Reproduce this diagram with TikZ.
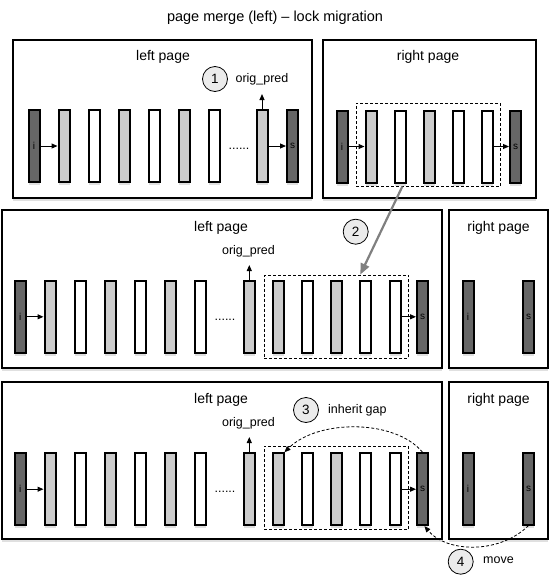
\documentclass[tikz,border=0pt]{standalone}
\usepackage{fontspec}
\setmainfont{Liberation Sans}
\usetikzlibrary{arrows.meta,shadows}
\definecolor{darkbar}{HTML}{666666}
\definecolor{lightbar}{HTML}{CCCCCC}
\definecolor{circfill}{HTML}{EBEBEB}
\definecolor{shadowc}{HTML}{E0E0E0}
\definecolor{grayarrow}{HTML}{808080}
\tikzset{
  shad/.style={drop shadow={shadow xshift=0pt, shadow yshift=-3pt, fill=shadowc, opacity=1}},
  pagebox/.style={draw, fill=white, line width=1.9pt, shad},
  bar/.style={draw, rectangle, line width=2pt, minimum width=11pt, minimum height=72pt, inner sep=0pt, shad, font=\fontsize{10}{12}\selectfont},
  barD/.style={bar, fill=darkbar},
  barL/.style={bar, fill=lightbar},
  barW/.style={bar, fill=white},
  dashbox/.style={draw, rectangle, dash pattern=on 3pt off 2pt, line width=0.9pt, inner sep=0pt},
  sarrow/.style={-{Triangle[length=6pt,width=5pt]}, line width=1pt},
  dcurve/.style={-{Triangle[length=6pt,width=5pt]}, line width=0.8pt, dash pattern=on 3pt off 2pt},
  circ/.style={circle, draw, line width=0.8pt, fill=circfill, minimum size=25pt, inner sep=0pt, font=\fontsize{13.5}{15}\selectfont},
  pagelabel/.style={font=\fontsize{14}{16}\selectfont},
  smalllabel/.style={font=\fontsize{12.5}{14}\selectfont, inner sep=0pt},
  dotslabel/.style={font=\fontsize{12.5}{14}\selectfont, inner sep=0pt, anchor=base}
}
\begin{document}
\begin{tikzpicture}[x=1pt,y=-1pt]
\useasboundingbox (0,0) rectangle (550,579);
\node[font=\fontsize{14.5}{17}\selectfont] (title) at (275,18) {page merge (left) – lock migration};

% ---------- row 1 ----------
\draw[pagebox] (13,40) rectangle (312,198);
\draw[pagebox] (323,40) rectangle (536,198);
\node[pagelabel] (lp1) at (163,57) {left page};
\node[pagelabel] (rp1) at (428,57) {right page};
\foreach \n/\x/\s/\t in {a/34/barD/i, b/64/barL/, c/94/barW/, d/124/barL/, e/154/barW/, f/184/barL/, g/214/barW/, h/262/barL/, i/292.5/barD/s}
  \node[\s] (L1\n) at (\x,146) {\t};
\foreach \n/\x/\s/\t in {a/342/barD/i, b/371/barL/, c/400/barW/, d/429/barL/, e/458/barW/, f/487/barW/, g/515.5/barD/s}
  \node[\s] (R1\n) at (\x,146.5) {\t};
\node[dashbox, minimum width=144.7pt, minimum height=82.7pt] (D1) at (428.35,144.65) {};
\draw[sarrow] (L1a.east) -- (L1b.west);
\draw[sarrow] (L1h.east) -- (L1i.west);
\draw[sarrow] (R1a.east) -- (R1b.west);
\draw[sarrow] (R1f.east) -- (R1g.west);
\node[dotslabel] (dots1) at (239,149.5) {......};
\coordinate (o1) at (262,94);
\draw[sarrow] (L1h.north) -- (o1);
\node[smalllabel] (op1) at (262,79) {orig\_pred};
\node[circ] (c1) at (215,79) {1};

% ---------- row 2 ----------
\draw[pagebox] (2,210) rectangle (442,368);
\draw[pagebox] (449,210) rectangle (548,368);
\node[pagelabel] (lp2) at (221,228) {left page};
\node[pagelabel] (rp2) at (498.5,228) {right page};
\foreach \n/\x/\s/\t in {a/20.3/barD/i, b/50/barL/, c/80.3/barW/, d/110/barL/, e/140/barW/, f/170/barL/, g/200/barW/, h/249.3/barL/, i/278/barL/, j/307.3/barW/, k/336/barL/, l/365.5/barW/, m/395/barW/, n/422.5/barD/s}
  \node[\s] (L2\n) at (\x,316.8) {\t};
\node[barD] (R2a) at (468,316.8) {i};
\node[barD] (R2b) at (528.5,316.8) {s};
\node[dashbox, minimum width=144pt, minimum height=83.3pt] (D2) at (336.3,316.65) {};
\draw[sarrow] (L2a.east) -- (L2b.west);
\draw[sarrow] (L2m.east) -- (L2n.west);
\node[dotslabel] (dots2) at (225,320.5) {......};
\coordinate (o2) at (249.3,265);
\draw[sarrow] (L2h.north) -- (o2);
\node[smalllabel] (op2) at (248.5,251) {orig\_pred};
\node[circ] (c2) at (355.7,231.7) {2};

% ---------- row 3 ----------
\draw[pagebox] (2,382) rectangle (442,539);
\draw[pagebox] (449,382) rectangle (548,539);
\node[pagelabel] (lp3) at (221,400) {left page};
\node[pagelabel] (rp3) at (498.5,400) {right page};
\foreach \n/\x/\s/\t in {a/20.3/barD/i, b/50/barL/, c/80.3/barW/, d/110/barL/, e/140/barW/, f/170/barL/, g/200/barW/, h/249.3/barL/, i/278/barL/, j/307.3/barW/, k/336/barL/, l/365.5/barW/, m/395/barW/, n/422.5/barD/s}
  \node[\s] (L3\n) at (\x,489.2) {\t};
\node[barD] (R3a) at (468,488.5) {i};
\node[barD] (R3b) at (528.5,488.5) {s};
\node[dashbox, minimum width=144.3pt, minimum height=83.3pt] (D3) at (336.15,487.65) {};
\draw[sarrow] (L3a.east) -- (L3b.west);
\draw[sarrow] (L3m.east) -- (L3n.west);
\node[dotslabel] (dots3) at (225,492.5) {......};
\coordinate (o3) at (249.3,437);
\draw[sarrow] (L3h.north) -- (o3);
\node[smalllabel] (op3) at (248.5,423) {orig\_pred};
\node[circ] (c3) at (306,410) {3};
\node[smalllabel, anchor=west] (ig) at (328,410) {inherit gap};
\draw[dcurve] (L3n.north) .. controls (395,419) and (318,419) .. (L3i.north east);
\draw[dcurve] (R3b.south) .. controls (500,554) and (447,553) .. ([xshift=2pt]L3n.south);
\node[circ] (c4) at (460.7,561.7) {4};
\node[smalllabel, anchor=west] (mv) at (483,560) {move};

% ---------- gray arrow ----------
\draw[-{Triangle[length=11pt,width=9pt]}, line width=2.2pt, draw=grayarrow, fill=grayarrow] ([xshift=-26pt]D1.south) -- ([xshift=24pt]D2.north);
\end{tikzpicture}
\end{document}
